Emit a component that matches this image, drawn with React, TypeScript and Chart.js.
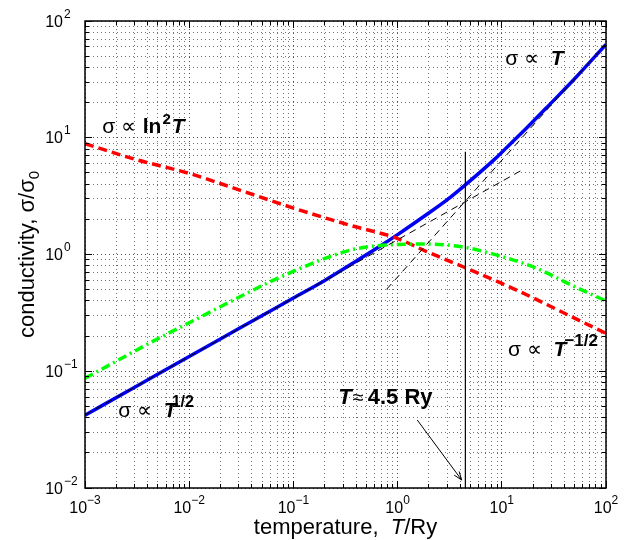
import React, { useEffect, useRef } from 'react';
import { Chart, registerables } from 'chart.js';

Chart.register(...registerables);

// ---------- data ----------
const xTickExponents = [-3, -2, -1, 0, 1, 2];
const yTickExponents = [-2, -1, 0, 1, 2];

// blue solid: sigma ~ T^1/2 -> sigma ~ T
const blueT = [0.001, 0.003, 0.01, 0.03, 0.1, 0.2, 0.435, 0.7, 1, 1.9, 3, 4.47, 8.3, 10.3, 17.3, 30, 50, 100];
const blueSigma = [0.042, 0.073, 0.134, 0.232, 0.424, 0.6, 0.92, 1.2, 1.48, 2.2, 2.95, 3.95, 6.4, 7.7, 12.1, 20, 32, 63];

// red dashed: sigma ~ ln^2 T -> sigma ~ T^-1/2
const redT = [0.001, 0.003, 0.01, 0.03, 0.1, 0.35, 1, 1.9, 4.47, 10, 15, 20, 45, 100];
const redSigma = [8.9, 6.55, 4.95, 3.58, 2.5, 1.78, 1.37, 1.06, 0.77, 0.565, 0.48, 0.425, 0.298, 0.211];

// green dash-dot
const greenT = [0.001, 0.002, 0.005, 0.01, 0.03, 0.06, 0.116, 0.225, 0.4, 1.0, 1.9, 4.47, 9.6, 21, 50, 100];
const greenSigma = [0.087, 0.122, 0.19, 0.26, 0.43, 0.585, 0.76, 0.96, 1.12, 1.22, 1.23, 1.15, 0.97, 0.77, 0.53, 0.4];

// thin black dashed asymptotes
const sqrtAsymT = [0.001, 16.1];
const sqrtAsymSigma = [0.0423, 5.37];
const linAsymT = [0.785, 100];
const linAsymSigma = [0.504, 64];

// vertical marker at T ~ 4.5 Ry
const markerT = [4.47, 4.47];
const markerSigma = [0.01, 7.6];

// arrow (tail -> head)
const arrowT = [1.545, 4.12];
const arrowSigma = [0.0382, 0.0117];

const FF = '"Liberation Sans", Arial, Helvetica, sans-serif';

function decadeTicks(e0: number, e1: number) {
  const out: number[] = [];
  for (let e = e0; e < e1; e++) {
    for (let m = 1; m <= 9; m++) out.push(Number((m * Math.pow(10, e)).toPrecision(12)));
  }
  out.push(Math.pow(10, e1));
  return out;
}

function isPow10(v: number) {
  const l = Math.log10(v);
  return Math.abs(l - Math.round(l)) < 1e-9;
}

function pts(xs: number[], ys: number[]) {
  return xs.map((x, i) => ({ x, y: ys[i] }));
}

type Part = { text: string; font: string; dy?: number; dx?: number };

function runWidth(ctx: CanvasRenderingContext2D, parts: Part[]) {
  let w = 0;
  for (const p of parts) {
    ctx.font = p.font;
    w += ctx.measureText(p.text).width + (p.dx || 0);
  }
  return w;
}

function drawRuns(ctx: CanvasRenderingContext2D, x: number, y: number, parts: Part[]) {
  let cx = x;
  for (const p of parts) {
    ctx.font = p.font;
    ctx.fillText(p.text, cx, y + (p.dy || 0));
    cx += ctx.measureText(p.text).width + (p.dx || 0);
  }
}

const decor = {
  id: 'decor',
  afterDatasetsDraw(chart: any) {
    const { ctx, chartArea: a, scales } = chart;
    const x = scales.x;
    const y = scales.y;
    ctx.save();
    ctx.textAlign = 'left';
    ctx.textBaseline = 'alphabetic';
    ctx.fillStyle = '#000';
    ctx.strokeStyle = '#000';

    // frame
    ctx.lineWidth = 1.5;
    ctx.strokeRect(a.left, a.top, a.right - a.left, a.bottom - a.top);

    // tick marks on all sides
    ctx.lineWidth = 1;
    ctx.beginPath();
    for (const t of x.ticks) {
      const px = Math.round(x.getPixelForValue(t.value) - 0.5) + 0.5;
      const len = isPow10(t.value) ? 7 : 4;
      ctx.moveTo(px, a.bottom);
      ctx.lineTo(px, a.bottom - len);
      ctx.moveTo(px, a.top);
      ctx.lineTo(px, a.top + len);
    }
    for (const t of y.ticks) {
      const py = Math.round(y.getPixelForValue(t.value) - 0.5) + 0.5;
      const len = isPow10(t.value) ? 7 : 4;
      ctx.moveTo(a.left, py);
      ctx.lineTo(a.left + len, py);
      ctx.moveTo(a.right, py);
      ctx.lineTo(a.right - len, py);
    }
    ctx.stroke();

    const baseFont = `16px ${FF}`;
    const expFont = `12px ${FF}`;
    const expText = (e: number) => (e < 0 ? '\u2212' + Math.abs(e) : String(e));

    // x tick labels
    for (const e of xTickExponents) {
      const px = x.getPixelForValue(Math.pow(10, e));
      const parts: Part[] = [
        { text: '10', font: baseFont },
        { text: expText(e), font: expFont, dy: -9 },
      ];
      const w = runWidth(ctx, parts);
      drawRuns(ctx, px - w / 2, a.bottom + 25, parts);
    }
    // y tick labels
    for (const e of yTickExponents) {
      const py = y.getPixelForValue(Math.pow(10, e));
      ctx.font = baseFont;
      ctx.textAlign = 'right';
      ctx.fillText('10', 63, py + 5.7);
      ctx.textAlign = 'left';
      ctx.font = expFont;
      ctx.fillText(expText(e), 64, py - 3.3);
    }

    // axis titles
    const titleFont = `22px ${FF}`;
    const xt: Part[] = [
      { text: 'temperature,  ', font: titleFont },
      { text: 'T', font: `italic 22px ${FF}` },
      { text: '/Ry', font: titleFont },
    ];
    const xw = runWidth(ctx, xt);
    drawRuns(ctx, (a.left + a.right) / 2 - xw / 2, 534, xt);

    const yt: Part[] = [
      { text: 'conductivity, \u03c3/\u03c3', font: titleFont },
      { text: '0', font: `15px ${FF}`, dy: 5 },
    ];
    const yw = runWidth(ctx, yt);
    ctx.save();
    ctx.translate(34, (a.top + a.bottom) / 2);
    ctx.rotate(-Math.PI / 2);
    drawRuns(ctx, -yw / 2, 0, yt);
    ctx.restore();

    // annotations
    const nrm = `21px ${FF}`;
    const bld = `bold 21px ${FF}`;
    const bit = `italic bold 21px ${FF}`;
    const at = (t: number, s: number) => [x.getPixelForValue(t), y.getPixelForValue(s)];

    let p = at(1.46e-3, 10.98);
    drawRuns(ctx, p[0], p[1], [
      { text: '\u03c3 \u221d ', font: nrm, dx: 1 },
      { text: 'ln', font: bld, dx: 1 },
      { text: '2', font: `bold 15px ${FF}`, dy: -9, dx: 1 },
      { text: 'T', font: bit },
    ]);

    p = at(10.8, 42.0);
    drawRuns(ctx, p[0], p[1], [
      { text: '\u03c3 \u221d  ', font: nrm },
      { text: 'T', font: bit },
    ]);

    p = at(2.09e-3, 0.0408);
    drawRuns(ctx, p[0], p[1], [
      { text: '\u03c3 \u221d  ', font: nrm },
      { text: 'T', font: bit, dx: -5 },
      { text: '1/2', font: `bold 16px ${FF}`, dy: -10 },
    ]);

    p = at(11.5, 0.135);
    drawRuns(ctx, p[0], p[1], [
      { text: '\u03c3 \u221d  ', font: nrm },
      { text: 'T', font: bit, dx: -2 },
      { text: '\u22121/2', font: `bold 17px ${FF}`, dy: -10 },
    ]);

    p = at(0.27, 0.0521);
    drawRuns(ctx, p[0], p[1], [
      { text: 'T', font: `italic bold 22px ${FF}`, dx: 1 },
      { text: '\u2248', font: `20px ${FF}`, dx: 4 },
      { text: '4.5 Ry', font: `bold 22px ${FF}` },
    ]);

    // arrow
    const [x0, y0] = at(arrowT[0], arrowSigma[0]);
    const [x1, y1] = at(arrowT[1], arrowSigma[1]);
    ctx.lineWidth = 1;
    ctx.beginPath();
    ctx.moveTo(x0, y0);
    ctx.lineTo(x1, y1);
    ctx.stroke();
    const ang = Math.atan2(y1 - y0, x1 - x0);
    const hl = 9;
    const hw = 0.35;
    ctx.beginPath();
    ctx.moveTo(x1 - hl * Math.cos(ang - hw), y1 - hl * Math.sin(ang - hw));
    ctx.lineTo(x1, y1);
    ctx.lineTo(x1 - hl * Math.cos(ang + hw), y1 - hl * Math.sin(ang + hw));
    ctx.stroke();

    ctx.restore();
  },
};

export default function App() {
  const ref = useRef<HTMLCanvasElement | null>(null);
  useEffect(() => {
    document.body.style.margin = '0';
    const canvas = ref.current;
    if (!canvas) return;
    const gridColor = (c: any) =>
      c.tick && isPow10(c.tick.value) ? 'rgba(0,0,0,0.7)' : 'rgba(0,0,0,0.55)';
    const common = { pointRadius: 0, pointHoverRadius: 0, fill: false, cubicInterpolationMode: 'monotone' as const };
    const chart = new Chart(canvas, {
      type: 'line',
      data: {
        datasets: [
          { ...common, label: 'asym T', data: pts(linAsymT, linAsymSigma), borderColor: '#000', borderWidth: 1, borderDash: [7, 5] },
          { ...common, label: 'asym sqrt', data: pts(sqrtAsymT, sqrtAsymSigma), borderColor: '#000', borderWidth: 1, borderDash: [7, 5] },
          { ...common, label: 'marker', data: pts(markerT, markerSigma), borderColor: '#000', borderWidth: 1.2 },
          { ...common, label: 'green', data: pts(greenT, greenSigma), borderColor: 'rgb(0,255,0)', borderWidth: 3.5, borderDash: [9, 4, 2, 4] },
          { ...common, label: 'red', data: pts(redT, redSigma), borderColor: 'rgb(255,0,0)', borderWidth: 3.5, borderDash: [9, 5] },
          { ...common, label: 'blue', data: pts(blueT, blueSigma), borderColor: 'rgb(0,0,245)', borderWidth: 3.5 },
        ],
      },
      options: {
        responsive: false,
        animation: false,
        events: [],
        layout: { padding: { top: 21, right: 25, left: 0, bottom: 0 } },
        plugins: { legend: { display: false }, tooltip: { enabled: false } },
        scales: {
          x: {
            type: 'logarithmic',
            min: 1e-3,
            max: 1e2,
            afterBuildTicks: (s: any) => {
              s.ticks = decadeTicks(-3, 2).map((v) => ({ value: v }));
            },
            afterFit: (s: any) => {
              s.height = 52;
            },
            ticks: { display: false, autoSkip: false },
            grid: { color: gridColor, lineWidth: 1, drawTicks: false },
            border: { display: false, dash: [1, 3] },
          },
          y: {
            type: 'logarithmic',
            min: 1e-2,
            max: 1e2,
            afterBuildTicks: (s: any) => {
              s.ticks = decadeTicks(-2, 2).map((v) => ({ value: v }));
            },
            afterFit: (s: any) => {
              s.width = 85;
            },
            ticks: { display: false, autoSkip: false },
            grid: { color: gridColor, lineWidth: 1, drawTicks: false },
            border: { display: false, dash: [1, 3] },
          },
        },
      },
      plugins: [decor],
    });
    return () => chart.destroy();
  }, []);
  return (
    <div style={{ width: 631, height: 540 }}>
      <canvas ref={ref} width={631} height={540} style={{ display: 'block' }} />
    </div>
  );
}
